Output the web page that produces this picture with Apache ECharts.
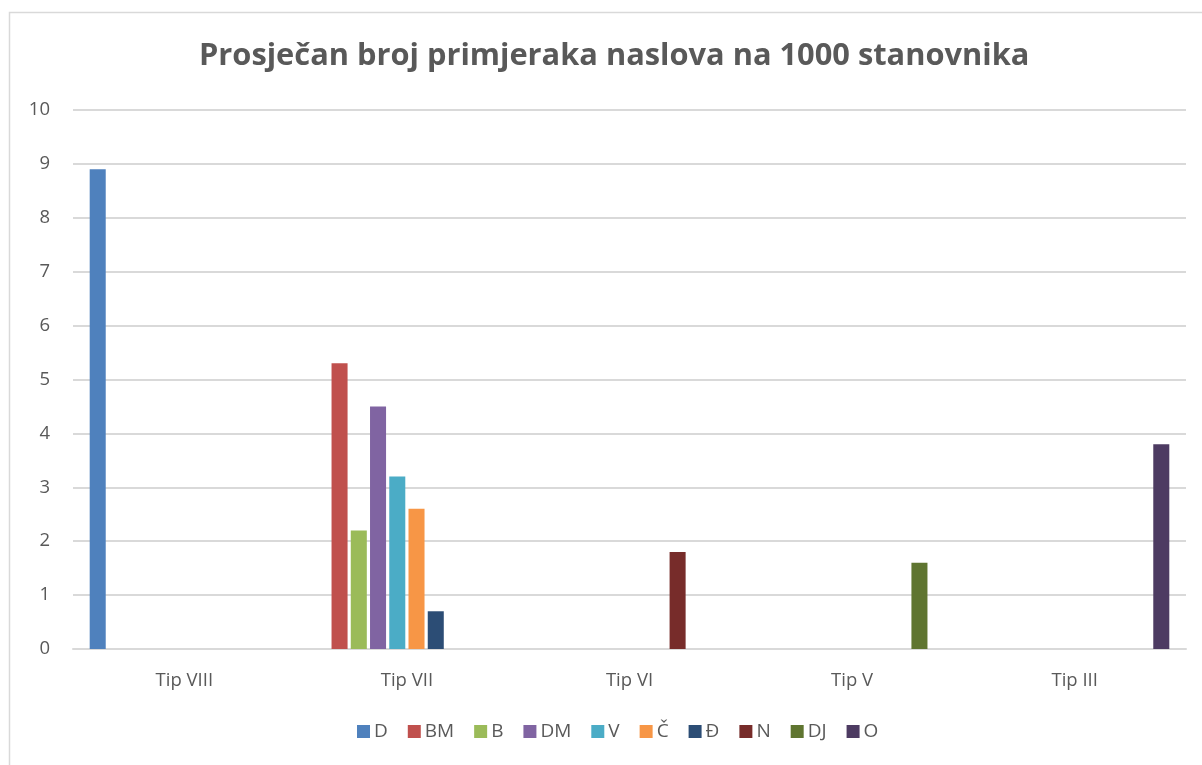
<!DOCTYPE html>
<html>
<head>
<meta charset="utf-8">
<script src="https://cdn.jsdelivr.net/npm/echarts@6/dist/echarts.min.js"></script>
<style>
  html, body { margin: 0; padding: 0; background: #fff; }
  #chart { width: 1202px; height: 765px; }
</style>
</head>
<body>
<div id="chart"></div>
<script>
// kategorije i vrijednosti
var categories = ['Tip VIII', 'Tip VII', 'Tip VI', 'Tip V', 'Tip III'];
var seriesNames = ['D', 'BM', 'B', 'DM', 'V', 'Č', 'Đ', 'N', 'DJ', 'O'];
var seriesColors = ['#4f81bd', '#c0504d', '#9bbb59', '#8064a2', '#4bacc6', '#f79646', '#2c4d75', '#772c2a', '#5f7530', '#4d3b62'];
var valD  = [8.9, null, null, null, null];
var valBM = [null, 5.3, null, null, null];
var valB  = [null, 2.2, null, null, null];
var valDM = [null, 4.5, null, null, null];
var valV  = [null, 3.2, null, null, null];
var valC  = [null, 2.6, null, null, null];
var valDj = [null, 0.7, null, null, null];
var valN  = [null, null, 1.8, null, null];
var valDJ = [null, null, null, 1.6, null];
var valO  = [null, null, null, null, 3.8];
var seriesValues = [valD, valBM, valB, valDM, valV, valC, valDj, valN, valDJ, valO];
var yTicks = [0, 1, 2, 3, 4, 5, 6, 7, 8, 9, 10];

var myChart = echarts.init(document.getElementById('chart'));

var textColor = '#595959';
var fontName = 'Open Sans';

var series = seriesNames.map(function (name, i) {
    return {
        name: name,
        type: 'bar',
        data: seriesValues[i],
        itemStyle: { color: seriesColors[i] },
        barGap: '20%',
        barCategoryGap: '15%'
    };
});

var option = {
    animation: false,
    backgroundColor: '#fff',
    graphic: [{
        type: 'rect',
        shape: { x: 9.5, y: 12.5, width: 1300, height: 800 },
        style: { fill: 'none', stroke: '#d9d9d9', lineWidth: 1.5 },
        silent: true
    }],
    title: {
        text: 'Prosječan broj primjeraka naslova na 1000 stanovnika',
        left: 194,
        top: 36,
        textStyle: {
            color: textColor,
            fontFamily: fontName,
            fontWeight: 'bold',
            fontSize: 30.8
        }
    },
    legend: {
        data: seriesNames,
        bottom: 19,
        left: 352,
        itemWidth: 13,
        itemHeight: 13,
        itemGap: 20,
        icon: 'rect',
        textStyle: { color: textColor, fontFamily: fontName, fontSize: 19, padding: [0, 0, 0, -1] }
    },
    grid: {
        left: 73,
        right: 16,
        top: 110,
        bottom: 116,
        containLabel: false
    },
    xAxis: {
        type: 'category',
        data: categories,
        axisLine: { lineStyle: { color: '#d9d9d9', width: 2 } },
        axisTick: { show: false },
        axisLabel: { color: textColor, fontFamily: fontName, fontSize: 18.5, margin: 22 }
    },
    yAxis: {
        type: 'value',
        min: yTicks[0],
        max: yTicks[yTicks.length - 1],
        interval: 1,
        axisLine: { show: false },
        axisTick: { show: false },
        splitLine: { lineStyle: { color: '#d9d9d9', width: 2 } },
        axisLabel: { color: textColor, fontFamily: fontName, fontSize: 18.5, margin: 23 }
    },
    series: series
};

myChart.setOption(option);
</script>
</body>
</html>
